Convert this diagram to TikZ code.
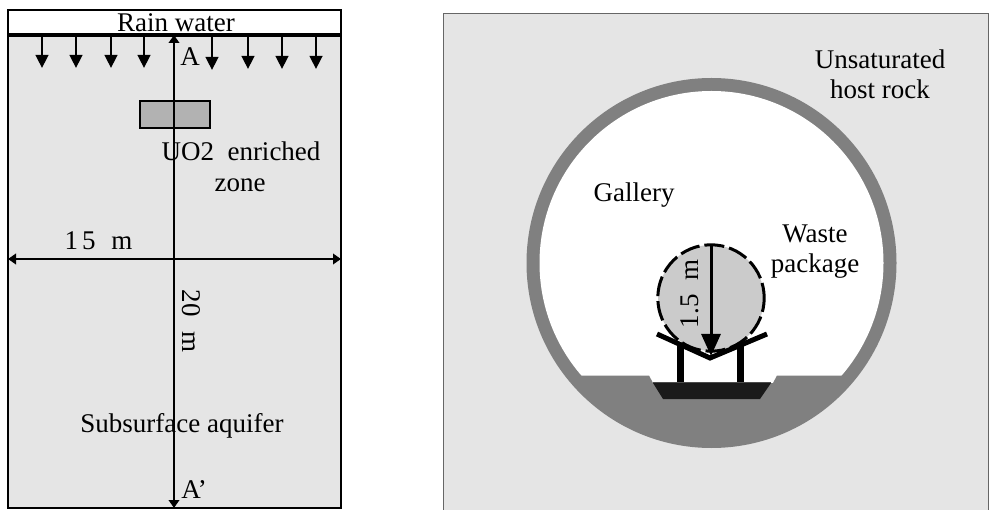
\documentclass[tikz,border=0pt]{standalone}
\usepackage{fontspec}
\setmainfont{Liberation Serif}
\usetikzlibrary{arrows.meta}
\definecolor{rock}{HTML}{E5E5E5}
\definecolor{ringgray}{HTML}{808080}
\definecolor{wp}{HTML}{CBCBCB}
\definecolor{zonegray}{HTML}{B2B2B2}
\definecolor{pad}{HTML}{1A1A1A}
\tikzset{
  lbl/.style={font=\fontsize{27}{27}\selectfont,inner sep=0pt,align=center},
  rainarrow/.style={line width=2.6pt,-{Triangle[length=13pt,width=12.5pt]}},
  axisarrow/.style={line width=2.8pt,{Triangle[length=8pt,width=10.5pt]}-{Triangle[length=8pt,width=10.5pt]}},
  leg/.style={line width=7pt},
  panel/.style={minimum width=#1,inner sep=0pt,outer sep=0pt,anchor=north west},
}
\begin{document}
\begin{tikzpicture}[x=1pt,y=-1pt]
\useasboundingbox (0,0) rectangle (990,510);
% left panel
\node[panel=333pt,draw=black,line width=2.4pt,fill=rock,minimum height=498pt] (aquifer) at (8,10) {};
\node[panel=333pt,draw=black,line width=2.4pt,fill=white,minimum height=25pt] (rain) at (8,10) {};
\draw[line width=3.5pt] (rain.south west) -- (rain.south east);
\foreach \n/\x/\yy in {a/42/68,b/76/68,c/111/68,d/144/68,e/212/70,f/248/69,g/282/69,h/316/69}{
  \coordinate (s\n) at (\x,36);
  \coordinate (t\n) at (\x,\yy);
  \draw[rainarrow] (s\n) -- (t\n);
}
\node[panel=70pt,draw=black,line width=2.2pt,fill=zonegray,minimum height=27pt] (zone) at (140,101) {};
\coordinate (Atop) at (174,35);
\coordinate (Abot) at (174,508);
\draw[axisarrow] (Atop) -- (Abot);
\draw[axisarrow] (aquifer.west |- 0,259) coordinate (wl) -- (aquifer.east |- 0,259) coordinate (wr);
\node[lbl] (lrain) at (176,23) {Rain water};
\node[lbl] (la) at (190,57) {A};
\node[lbl] (luo) at (241,151) {UO2\ \ enriched};
\node[lbl] (lzone) at (240,185) {zone};
\node[lbl] (l15) at (98.5,241) {1\hspace{0.15em}5\hspace{0.58em}m};
\node[lbl,rotate=-90] (l20) at (191,321) {20\hspace{0.55em}m};
\node[lbl] (lsub) at (182,426) {Subsurface aquifer};
\node[lbl] (lap) at (194,490) {A’};
% right panel
\node[panel=545pt,draw=black!60,line width=0.6pt,fill=rock,minimum height=497pt] (host) at (443,13) {};
\fill[ringgray] (711.5,263) circle [radius=185];
\fill[white] (711.5,263) circle [radius=172];
\begin{scope}
\clip (711.5,263) circle [radius=173];
\fill[ringgray] (500,375.5) -- (649,375.5) -- (653,383) -- (773,383) -- (777,375.5) -- (930,375.5) -- (930,460) -- (500,460) -- cycle;
\end{scope}
\fill[pad] (653,383) -- (771,383) -- (760,399) -- (663,399) -- cycle;
\draw[black!70,line width=0.8pt] (653,382.5) -- (771,382.5);
\draw[leg] (680,345) -- (680,382);
\draw[leg] (740,345) -- (740,382);
\node[circle,draw=none,fill=wp,minimum size=106pt,inner sep=0pt] (pkg) at (711,298) {};
\draw[line width=3pt,dash pattern=on 20pt off 5pt,dash phase=6pt] (711,298) circle [radius=53.2];
\draw[line width=5pt] (657,334) -- (710,358) -- (767,334);
\coordinate (rtop) at (711,245);
\coordinate (rbot) at (711,356);
\draw[line width=3pt,-{Triangle[length=22pt,width=19pt]}] (rtop) -- (rbot);
\node[lbl,rotate=90] (l15m) at (690,294) {1.5\ \ m};
\node[lbl] (lhost) at (880,74) {Unsaturated\\[3pt]host rock};
\node[lbl] (lgal) at (634,195) {Gallery};
\node[lbl] (lwaste) at (815,252) {Waste\\[3pt]package};
\end{tikzpicture}
\end{document}
